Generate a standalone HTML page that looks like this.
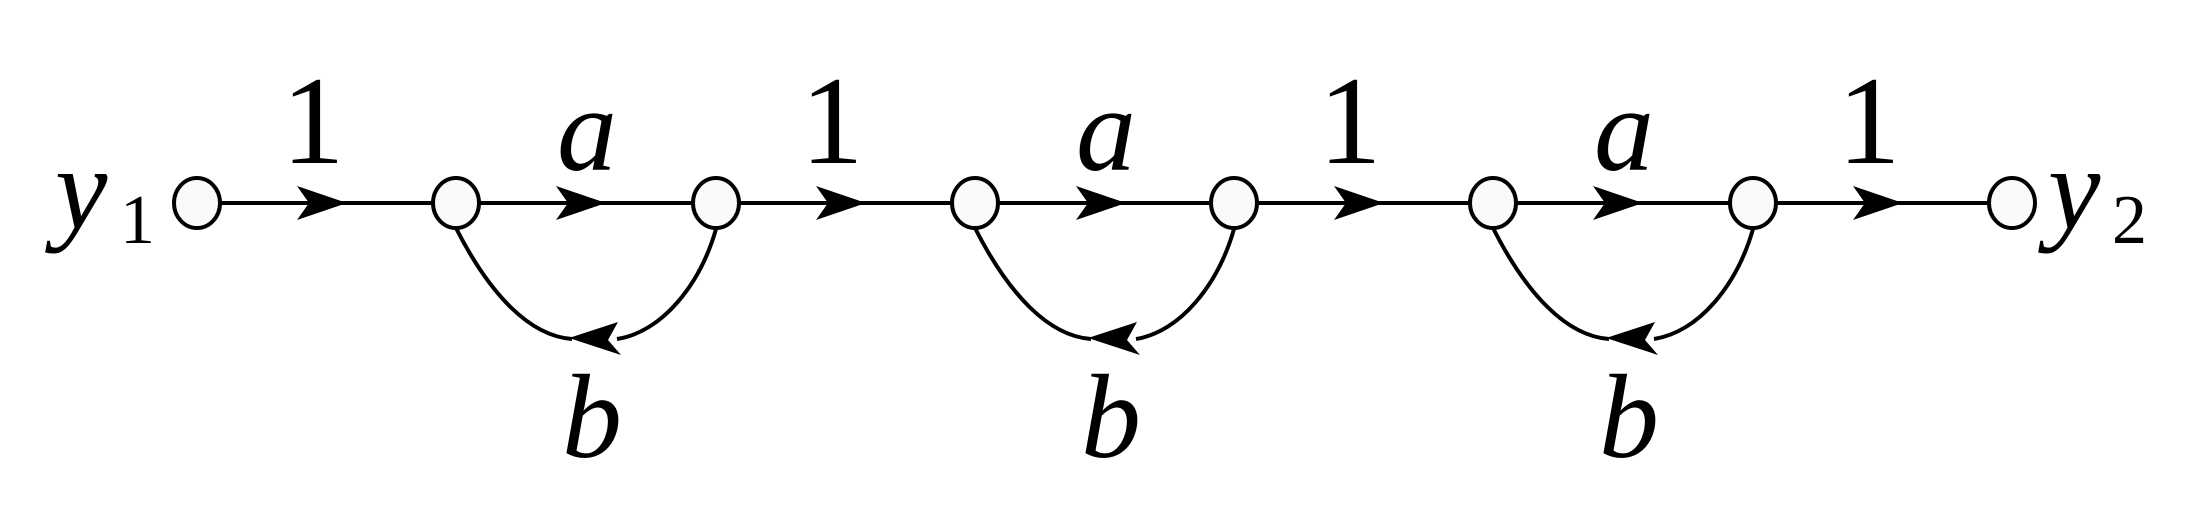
<!DOCTYPE html>
<html><head><meta charset="utf-8"><style>
html,body{margin:0;padding:0;background:#fff;}
svg{display:block;}
text{font-family:"Liberation Serif","Times New Roman",serif;fill:#000;}
</style></head><body>
<svg width="2210" height="519" viewBox="0 0 2210 519" xmlns="http://www.w3.org/2000/svg">
<g stroke="#000" stroke-width="4" fill="none">
<line x1="220" y1="203" x2="1989" y2="203"/>
<path d="M456 228 C490 295 530 336 572 339"/>
<path d="M716 229 C700 285 662 332 617 339"/>
<path d="M975 228 C1009 295 1049 336 1091 339"/>
<path d="M1234 229 C1218 285 1180 332 1136 339"/>
<path d="M1493 228 C1527 295 1567 336 1609 339"/>
<path d="M1753 229 C1737 285 1699 332 1654 339"/>
</g>
<g fill="#000">
<path d="M347 203 L297 186 L309 203 L297 220 Z"/>
<path d="M606 203 L556 186 L568 203 L556 220 Z"/>
<path d="M866 203 L816 186 L828 203 L816 220 Z"/>
<path d="M1126 203 L1076 186 L1088 203 L1076 220 Z"/>
<path d="M1384 203 L1334 186 L1346 203 L1334 220 Z"/>
<path d="M1643 203 L1593 186 L1605 203 L1593 220 Z"/>
<path d="M1903 203 L1853 186 L1865 203 L1853 220 Z"/>
<path d="M569 338 L618 322 L608 340 L621 355 Z"/>
<path d="M1088 338 L1137 322 L1127 340 L1140 355 Z"/>
<path d="M1606 338 L1655 322 L1645 340 L1658 355 Z"/>
</g>
<g stroke="#000" stroke-width="4" fill="#fafafa">
<ellipse cx="197" cy="203" rx="23" ry="25"/>
<ellipse cx="456" cy="203" rx="23" ry="25"/>
<ellipse cx="716" cy="203" rx="23" ry="25"/>
<ellipse cx="975" cy="203" rx="23" ry="25"/>
<ellipse cx="1234" cy="203" rx="23" ry="25"/>
<ellipse cx="1493" cy="203" rx="23" ry="25"/>
<ellipse cx="1753" cy="203" rx="23" ry="25"/>
<ellipse cx="2012" cy="203" rx="23" ry="25"/>
</g>
<g font-family="Liberation Serif, Times New Roman, serif" font-size="126" text-anchor="middle">
<text x="313" y="163">1</text>
<text x="832" y="163">1</text>
<text x="1350" y="163">1</text>
<text x="1869" y="163">1</text>
</g>
<g font-family="Liberation Serif, Times New Roman, serif" font-size="120" font-style="italic" text-anchor="middle">
<text x="587" y="170">a</text>
<text x="1106" y="170">a</text>
<text x="1624" y="170">a</text>
<text x="592" y="457">b</text>
<text x="1111" y="457">b</text>
<text x="1629" y="457">b</text>
</g>
<text font-family="Liberation Serif, Times New Roman, serif" x="55" y="228" font-size="118" font-style="italic">y</text>
<text font-family="Liberation Serif, Times New Roman, serif" x="120" y="243" font-size="70">1</text>
<text font-family="Liberation Serif, Times New Roman, serif" x="2048" y="228" font-size="118" font-style="italic">y</text>
<text font-family="Liberation Serif, Times New Roman, serif" x="2112" y="243" font-size="70">2</text>
</svg>
</body></html>
